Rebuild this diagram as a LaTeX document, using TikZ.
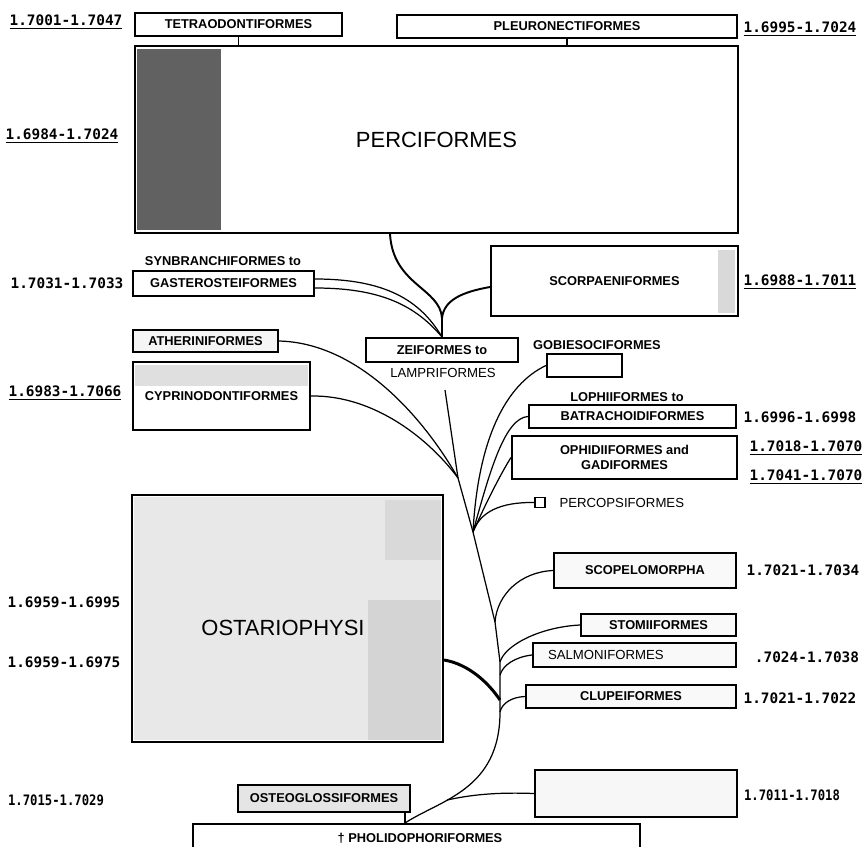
\documentclass[tikz,border=0pt]{standalone}
\usepackage{fontspec}
\setmainfont{Liberation Sans}
\newfontfamily\numfont{DejaVu Sans Mono}
\usetikzlibrary{positioning, calc}

\begin{document}
\begin{tikzpicture}[
    x=0.02cm, y=-0.02cm,
    taxon/.style={draw, line width=1.2pt, inner sep=1pt, align=center, font=\fontsize{7.3}{8.6}\selectfont\bfseries},
    capt/.style={font=\fontsize{7.3}{8.6}\selectfont\bfseries},
    plain/.style={font=\fontsize{7.5}{9}\selectfont},
    big/.style={font=\fontsize{12.5}{14}\selectfont},
    rng/.style={font=\numfont\bfseries\fontsize{8.2}{9.5}\selectfont},
    rngs/.style={font=\numfont\bfseries\fontsize{8.2}{9.5}\selectfont, xscale=0.85},
    edge/.style={draw, line width=0.7pt},
    stem/.style={draw, line width=1.1pt},
    heavy/.style={draw, line width=1.7pt}
]
    \useasboundingbox (0,0) rectangle (865,846);

    % stippled parts of the boxes
    \fill[black!62] (137,49) rectangle (221,230);
    \fill[gray!30] (718,250) rectangle (735,313);
    \fill[gray!25] (135,365) rectangle (308,386);
    \fill[gray!18] (134,497) rectangle (441,740);
    \fill[gray!34] (368,600) rectangle (441,740);
    \fill[gray!30] (385,500) rectangle (441,560);

    % boxes
    \node[taxon, minimum width=4.14cm, minimum height=0.46cm] (tetra) at (238.5,24.5) {TETRAODONTIFORMES};
    \node[taxon, minimum width=6.8cm, minimum height=0.46cm] (pleuro) at (567,26.5) {PLEURONECTIFORMES};
    \node[taxon, big, minimum width=12.06cm, minimum height=3.74cm] (perci) at (436.5,139.5) {PERCIFORMES};
    \node[taxon, minimum width=4.94cm, minimum height=1.4cm] (scorp) at (614.5,281) {SCORPAENIFORMES};
    \node[capt] (synb) at (223,261) {SYNBRANCHIFORMES to};
    \node[taxon, minimum width=3.62cm, minimum height=0.5cm] (gaster) at (223.5,283.5) {GASTEROSTEIFORMES};
    \node[taxon, minimum width=3.04cm, minimum height=0.48cm] (zei) at (442,350) {ZEIFORMES to};
    \node[plain] (lampri) at (443,373) {LAMPRIFORMES};
    \node[capt] (gobiet) at (597,345) {GOBIESOCIFORMES};
    \node[taxon, minimum width=1.5cm, minimum height=0.46cm] (gobie) at (584.5,365.5) {};
    \node[taxon, fill=gray!8, minimum width=2.9cm, minimum height=0.44cm] (ather) at (205.5,341) {ATHERINIFORMES};
    \node[taxon, minimum width=3.54cm, minimum height=1.36cm] (cypri) at (221.5,396) {CYPRINODONTIFORMES};
    \node[capt] (lophi) at (627,397) {LOPHIIFORMES to};
    \node[taxon, minimum width=4.14cm, minimum height=0.46cm] (batra) at (632.5,416.5) {BATRACHOIDIFORMES};
    \node[taxon, minimum width=4.5cm, minimum height=0.86cm] (ophid) at (624.5,457.5) {OPHIDIIFORMES and\\GADIFORMES};
    \node[draw, line width=1pt, minimum size=0.2cm, inner sep=0pt] (percop) at (540,502.5) {};
    \node[plain, right=0.15cm of percop] (percopt) {PERCOPSIFORMES};
    \node[taxon, minimum width=6.22cm, minimum height=4.94cm] (ostar) at (287.5,618.5) {};
    \node[big] (ostart) at (283,628) {OSTARIOPHYSI};
    \node[taxon, fill=gray!5, minimum width=3.64cm, minimum height=0.7cm] (scopel) at (645,570.5) {SCOPELOMORPHA};
    \node[taxon, fill=gray!5, minimum width=3.1cm, minimum height=0.44cm] (stomi) at (658.5,625) {STOMIIFORMES};
    \node[taxon, plain, fill=gray!5, text width=3.46cm, inner xsep=0.3cm, align=left, minimum height=0.48cm] (salmo) at (634.5,655) {SALMONIFORMES};
    \node[taxon, fill=gray!5, minimum width=4.2cm, minimum height=0.46cm] (clupe) at (631,696.5) {CLUPEIFORMES};
    \node[taxon, fill=gray!20, minimum width=3.44cm, minimum height=0.54cm] (osteo) at (324,798.5) {OSTEOGLOSSIFORMES};
    \node[taxon, fill=gray!6, minimum width=4.04cm, minimum height=0.94cm] (lowbox) at (636,793.5) {};
    \node[taxon, anchor=north, minimum width=8.94cm, minimum height=0.8cm] (pholi) at (416.5,823) {};
    \node[capt] (pholit) at (420,838) {\textdagger\ PHOLIDOPHORIFORMES};

    % refractive index ranges
    \node[rng] (r1) at (66,22) {\underline{1.7001-1.7047}};
    \node[rng] (r2) at (800,29) {\underline{1.6995-1.7024}};
    \node[rng] (r3) at (62,136) {\underline{1.6984-1.7024}};
    \node[rng] (r4) at (67,283) {1.7031-1.7033};
    \node[rng] (r5) at (800,282) {\underline{1.6988-1.7011}};
    \node[rng] (r6) at (65,393) {\underline{1.6983-1.7066}};
    \node[rng] (r7) at (800,417) {1.6996-1.6998};
    \node[rng] (r8) at (806,448) {\underline{1.7018-1.7070}};
    \node[rng] (r9) at (806,477) {\underline{1.7041-1.7070}};
    \node[rng] (r10) at (803,570) {1.7021-1.7034};
    \node[rng] (r11) at (64,602) {1.6959-1.6995};
    \node[rng] (r12) at (64,662) {1.6959-1.6975};
    \node[rng] (r13) at (807,657) {.7024-1.7038};
    \node[rng] (r14) at (800,698) {1.7021-1.7022};
    \node[rngs] (r15) at (56,800) {1.7015-1.7029};
    \node[rngs] (r16) at (792,795) {1.7011-1.7018};

    % branching points
    \coordinate (zj) at (442,318);
    \coordinate (tt) at (445,390);
    \coordinate (j1) at (458,478);
    \coordinate (j2) at (473,532);
    \coordinate (j3) at (495,622);
    \coordinate (j4) at (500,662);
    \coordinate (j4b) at (500,675);
    \coordinate (j5) at (500,700);
    \coordinate (j6) at (500,712);
    \coordinate (j7) at (447,800);
    \coordinate (pb) at (405,823);

    % upper part
    \draw[edge] (tetra.south) -- (tetra.south |- perci.north);
    \draw[edge] (pleuro.south) -- (pleuro.south |- perci.north);
    \draw[stem] ([xshift=-0.93cm]perci.south) .. controls (393,285) and (440,288) .. (zj);
    \draw[stem] ([yshift=-0.12cm]scorp.west) .. controls (462,292) and (444,300) .. (zj);
    \draw[stem] (zj) -- (zei.north);
    \draw[edge] ([yshift=0.09cm]gaster.east) .. controls (385,279) and (420,300) .. (zei.north);
    \draw[edge] ([yshift=-0.09cm]gaster.east) .. controls (380,288) and (415,305) .. (zei.north);

    % main stem
    \draw[edge] (tt) -- (j1) -- (j2) -- (j3) -- (j4) -- (j6) .. controls (500,790) and (440,800) .. (pb);
    \draw[edge] (osteo.south -| pb) -- (pb);

    % side branches
    \draw[edge] (ather.east) .. controls (360,343) and (425,420) .. (j1);
    \draw[edge] (cypri.east) .. controls (375,395) and (430,440) .. (j1);
    \draw[edge] (gobie.west) .. controls (505,385) and (478,440) .. (j2);
    \draw[edge] (batra.west) .. controls (505,418) and (490,470) .. (j2);
    \draw[edge] (ophid.west) .. controls (500,475) and (485,505) .. (j2);
    \draw[edge] (percop.west) .. controls (500,502) and (480,512) .. (j2);
    \draw[edge] (scopel.west) .. controls (520,572) and (497,595) .. (j3);
    \draw[edge] (stomi.west) .. controls (540,627) and (505,645) .. (j4);
    \draw[edge] (salmo.west) .. controls (515,657) and (503,665) .. (j4b);
    \draw[heavy] ([yshift=-0.83cm]ostar.east) .. controls (468,664) and (488,682) .. (j5);
    \draw[edge] (clupe.west) .. controls (512,697) and (502,703) .. (j6);
    \draw[edge] (lowbox.west) .. controls (495,792) and (470,795) .. (j7);
\end{tikzpicture}
\end{document}
